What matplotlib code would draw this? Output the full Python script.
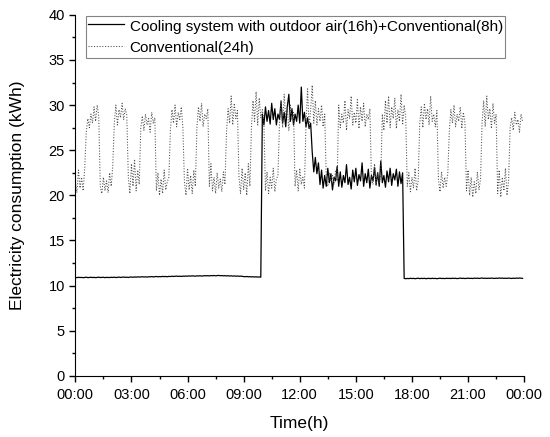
# ## ------- ## #
# ## Imports ## #
# ## ------- ## #

import numpy as np
import matplotlib
matplotlib.use("Agg")
import matplotlib.pyplot as plt
from matplotlib.ticker import MultipleLocator


# ## ---- ## #
# ## Data ## #
# ## ---- ## #

# one reading every 5 minutes over 24 h (288 readings per series)
step_minutes = 5

# Cooling system with outdoor air (16h) + Conventional (8h)
cooling_kwh = [
    # 00h - 10h
    10.90, 10.88, 10.92, 10.89, 10.91, 10.87, 10.90, 10.93, 10.88, 10.90, 10.92, 10.89,
    10.91, 10.88, 10.90, 10.93, 10.89, 10.90, 10.92, 10.88, 10.91, 10.90, 10.89, 10.92,
    10.90, 10.93, 10.89, 10.91, 10.94, 10.90, 10.92, 10.95, 10.91, 10.93, 10.90, 10.94,
    10.95, 10.92, 10.96, 10.93, 10.97, 10.94, 10.96, 10.98, 10.95, 10.97, 10.94, 10.98,
    10.97, 11.00, 10.96, 10.99, 11.01, 10.97, 11.00, 10.98, 11.02, 10.99, 11.01, 10.98,
    11.02, 11.00, 11.04, 11.01, 11.03, 11.05, 11.02, 11.04, 11.01, 11.05, 11.03, 11.06,
    11.04, 11.07, 11.05, 11.08, 11.06, 11.04, 11.08, 11.06, 11.09, 11.05, 11.07, 11.10,
    11.08, 11.10, 11.07, 11.11, 11.09, 11.12, 11.08, 11.10, 11.13, 11.09, 11.11, 11.08,
    11.10, 11.07, 11.09, 11.06, 11.08, 11.05, 11.07, 11.04, 11.06, 11.03, 11.05, 11.02,
    11.00, 10.98, 11.01, 10.97, 10.99, 10.96, 10.98, 10.95, 10.97, 10.94, 10.96, 10.93,
    # 10h - 12h40 (conventional part)
    29.0, 27.8, 29.8, 28.2, 29.4, 27.9, 30.2, 28.4, 29.6, 27.8, 29.0, 28.4,
    30.4, 28.0, 29.2, 27.6, 29.8, 31.2, 28.2, 29.6, 27.8, 29.0, 28.2, 30.0,
    28.0, 32.0, 28.2, 29.2, 27.6, 28.6, 27.4, 28.0,
    # transition
    24.8, 22.6, 24.2, 22.4, 23.6,
    # outdoor air cooling, ~13h - 17h35
    21.2, 22.8, 20.8, 22.2, 21.0, 23.0, 21.4, 22.4, 20.6, 22.0,
    21.6, 23.2, 21.0, 22.6, 20.9, 22.2, 21.4, 23.4, 21.2, 22.0,
    20.7, 22.8, 21.5, 23.0, 21.1, 22.3, 21.6, 23.6, 21.0, 22.4,
    21.4, 22.9, 20.8, 22.2, 21.6, 23.1, 21.2, 22.5, 21.0, 23.8,
    21.4, 22.2, 20.9, 22.7, 21.5, 23.0, 21.1, 22.4, 21.7, 22.9,
    21.0, 22.6, 21.3, 22.5,
    # 17h35 - 24h
    10.80, 10.76, 10.79, 10.77, 10.81,
    10.78, 10.80, 10.76, 10.79, 10.82, 10.77, 10.80, 10.78, 10.81, 10.76, 10.79, 10.80,
    10.77, 10.81, 10.78, 10.80, 10.76, 10.79, 10.82, 10.78, 10.80, 10.77, 10.81, 10.79,
    10.80, 10.78, 10.82, 10.79, 10.81, 10.77, 10.80, 10.83, 10.79, 10.81, 10.78, 10.80,
    10.82, 10.79, 10.81, 10.78, 10.83, 10.80, 10.82, 10.79, 10.81, 10.84, 10.80, 10.82,
    10.79, 10.82, 10.80, 10.83, 10.81, 10.79, 10.82, 10.80, 10.84, 10.81, 10.83, 10.80,
    10.82, 10.80, 10.83, 10.81, 10.79, 10.82, 10.80, 10.83, 10.81, 10.84, 10.82, 10.80,
]

# Conventional (24h) - alternating low / high compressor blocks
conventional_kwh = [
    21.5, 20.3, 22.8, 20.8, 22.0, 20.5, 23.0,
    27.0, 28.5, 27.5, 29.0, 28.0, 29.8, 28.2, 30.0, 28.8,
    21.0, 20.2, 22.0, 20.5, 21.6, 20.3, 22.5, 21.0, 23.2,
    28.0, 30.0, 27.8, 29.5, 28.6, 30.2, 28.4, 29.6, 28.9,
    22.0, 20.2, 23.5, 21.0, 24.0, 20.5, 22.8, 21.2,
    27.5, 28.8, 27.2, 29.0, 27.8, 28.5, 27.0, 29.2, 28.0, 28.6,
    20.5, 22.5, 20.0, 21.8, 20.2, 22.8, 20.6, 21.5, 22.0,
    27.2, 29.5, 28.0, 30.0, 27.6, 29.2, 28.4, 29.8, 27.5,
    21.5, 20.0, 23.0, 20.6, 22.2, 20.2, 22.8, 21.0,
    27.5, 29.8, 28.2, 30.2, 27.6, 29.0, 28.5, 29.6,
    21.0, 23.5, 20.5, 22.0, 20.2, 22.5, 20.8, 21.8, 20.4, 22.6, 21.2,
    27.0, 29.6, 28.0, 31.0, 27.8, 30.2, 28.5, 29.4,
    22.0, 20.2, 23.0, 20.6, 22.5, 20.0, 23.5, 21.0,
    27.5, 30.5, 28.2, 31.5, 27.8, 30.8, 28.6, 29.5, 28.0,
    20.5, 22.6, 20.2, 22.0, 20.8, 23.0, 20.4, 21.8, 22.2,
    28.0, 30.5, 27.5, 31.2, 28.6, 29.8, 27.2, 30.0, 28.4, 29.2,
    21.0, 22.8, 20.5, 23.0, 21.2, 22.0, 20.8,
    28.0, 31.8, 27.5, 29.5, 32.2, 28.0, 30.5, 27.8, 29.6, 28.2, 30.0, 27.6, 29.0,
    22.0, 21.0, 22.5, 21.5, 22.2, 21.2, 22.8, 21.6,
    30.0, 27.5, 29.0, 28.0, 30.5, 27.2, 29.5, 28.5, 31.0, 27.8, 29.2,
    28.0, 30.6, 27.4, 29.8, 28.2, 30.2, 27.6, 29.0, 28.4, 29.6,
    22.0, 21.2, 23.5, 21.0, 22.6, 21.4, 22.2,
    29.0, 27.2, 30.5, 28.0, 31.0, 27.5, 29.8, 28.5, 30.8, 27.4, 29.5, 28.2, 31.2, 27.8, 30.0, 28.6,
    21.0, 22.5, 20.4, 22.0, 20.8, 23.0, 20.5, 21.6,
    28.0, 29.8, 27.5, 30.2, 28.4, 29.6, 27.8, 31.0, 28.2, 29.0, 27.6, 29.4,
    21.8, 20.4, 22.6, 20.8, 22.0, 21.0, 22.4,
    27.2, 29.5, 28.0, 30.0, 27.6, 29.0, 28.2, 29.8, 27.4, 29.2, 28.0,
    20.5, 22.8, 20.0, 22.0, 19.8, 21.5, 20.2, 22.6, 20.6, 21.8,
    28.0, 30.5, 27.6, 31.0, 28.4, 29.6, 27.4, 30.2, 28.0, 29.0,
    20.2, 22.8, 19.8, 22.0, 20.5, 23.0, 20.0, 21.6,
    27.5, 28.6, 27.2, 29.2, 27.8, 28.4, 27.0, 29.0, 28.2,
]

tick_hours = [0, 3, 6, 9, 12, 15, 18, 21, 24]
tick_labels = ["00:00", "03:00", "06:00", "09:00", "12:00",
               "15:00", "18:00", "21:00", "00:00"]

label_cooling = "Cooling system with outdoor air(16h)+Conventional(8h)"
label_conventional = "Conventional(24h)"


# ## ----------- ## #
# ## Create plot ## #
# ## ----------- ## #

plt.rcParams["font.family"] = ["Liberation Sans", "DejaVu Sans"]

fig = plt.figure(figsize=(5.5, 4.37), dpi=100)
ax = fig.add_axes([0.137, 0.14, 0.816, 0.826])

t_cool = np.arange(len(cooling_kwh)) * step_minutes / 60
t_conv = np.arange(len(conventional_kwh)) * step_minutes / 60

ax.plot(t_cool, cooling_kwh, color="black", linewidth=0.9, label=label_cooling)
ax.plot(t_conv, conventional_kwh, color="0.3", linestyle=":", linewidth=0.75,
        label=label_conventional)

# Tidy axes
ax.set_xlim(0, 24)
ax.set_ylim(0, 40)
ax.set_xticks(tick_hours)
ax.set_xticklabels(tick_labels)
ax.xaxis.set_minor_locator(MultipleLocator(1.5))
ax.yaxis.set_major_locator(MultipleLocator(5))
ax.yaxis.set_minor_locator(MultipleLocator(2.5))
ax.tick_params(which="major", direction="out", length=4, width=1, labelsize=10.5)
ax.tick_params(which="minor", direction="out", length=2.5, width=1)
ax.tick_params(axis="x", which="major", pad=5)
ax.tick_params(axis="y", which="major", pad=3.5)

for side in ["top", "right"]:
    ax.spines[side].set_visible(False)

ax.set_xlabel("Time(h)", fontsize=12.5, labelpad=10)
ax.set_ylabel("Electricity consumption (kWh)", fontsize=12.5, labelpad=17)

leg = ax.legend(loc="upper left", bbox_to_anchor=(0.024, 0.997), fontsize=11,
                frameon=True, fancybox=False, edgecolor="0.4",
                borderpad=0.15, handleheight=1.1, labelspacing=0.4,
                handlelength=2.3, handletextpad=0.4, borderaxespad=0)
leg.get_frame().set_linewidth(0.8)

fig.savefig("out.png", dpi=100)
